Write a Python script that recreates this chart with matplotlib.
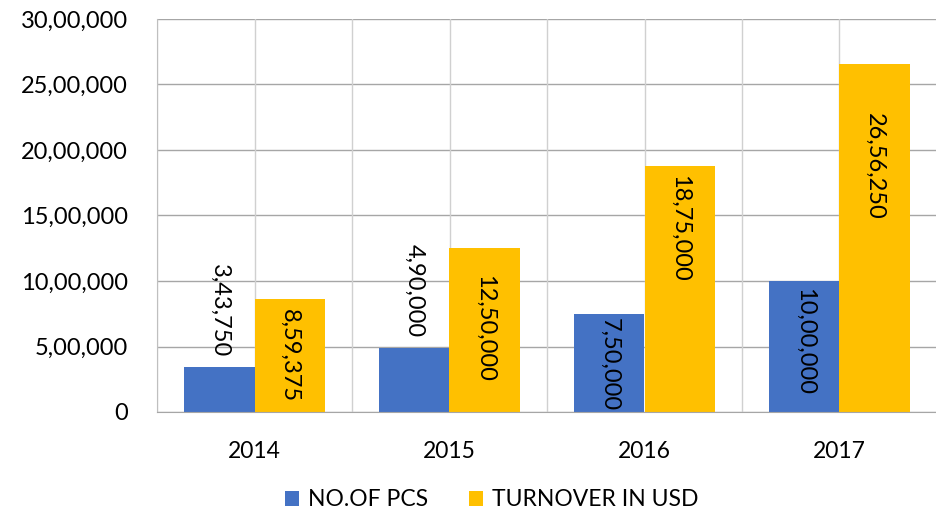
import matplotlib
matplotlib.use("Agg")
import matplotlib.pyplot as plt
from matplotlib.patches import Patch
import numpy as np

years = ["2014", "2015", "2016", "2017"]
series_names = ["NO.OF PCS", "TURNOVER IN USD"]
pcs = [343750, 490000, 750000, 1000000]
turnover = [859375, 1250000, 1875000, 2656250]
y_ticks = [0, 500000, 1000000, 1500000, 2000000, 2500000, 3000000]

# label placement styles (pixels from bar top; 'out' = above bar)
pcs_label_mode = ["out", "out", "in", "in"]
pcs_label_pad = [10, 11, 4, 7]
turn_label_mode = ["in", "in", "in", "in"]
turn_label_pad = [10, 27, 9, 49]

BLUE = "#4472C4"
YELLOW = "#FFC000"


def indian(n):
    n = int(round(n))
    s = str(n)
    if len(s) <= 3:
        return s
    last3 = s[-3:]
    rest = s[:-3]
    parts = []
    while len(rest) > 2:
        parts.insert(0, rest[-2:])
        rest = rest[:-2]
    if rest:
        parts.insert(0, rest)
    return ",".join(parts) + "," + last3


plt.rcParams["font.family"] = ["Lato", "DejaVu Sans"]
DPI = 100
fig = plt.figure(figsize=(9.37, 5.15), dpi=DPI)
ax = fig.add_axes([157 / 937, 103 / 515, 780 / 937, 393 / 515])

x = np.arange(len(years))
w = 0.36
b1 = ax.bar(x - w / 2, pcs, w, color=BLUE, zorder=3)
b2 = ax.bar(x + w / 2, turnover, w, color=YELLOW, zorder=3)

ax.set_xlim(-0.5, len(years) - 0.5)
ax.set_ylim(0, 3000000)
ax.set_yticks(y_ticks)
ax.set_yticklabels([indian(v) for v in y_ticks], fontsize=17)
ax.set_xticks(x)
ax.set_xticklabels(years, fontsize=16.5)
ax.tick_params(axis="y", length=0, pad=21)
ax.tick_params(axis="x", length=0, pad=21)

# gridlines
for v in y_ticks:
    ax.axhline(v, color="#A6A6A6", lw=1.0, zorder=1)
for xv in np.arange(-0.5, len(years), 0.5):
    ax.axvline(xv, color="#D0D0D0", lw=1.0, zorder=1)
for s in ["top", "right"]:
    ax.spines[s].set_visible(False)
ax.spines["left"].set_color("#BFBFBF")
ax.spines["bottom"].set_color("#A6A6A6")
ax.spines["left"].set_zorder(4)
ax.spines["bottom"].set_zorder(4)

pt = 72 / DPI


def label_bars(bars, vals, modes, pads):
    for bar, v, m, p in zip(bars, vals, modes, pads):
        cx = bar.get_x() + bar.get_width() / 2
        if m == "in":
            ax.annotate(indian(v), (cx, v), xytext=(0, -p * pt), textcoords="offset points",
                        rotation=270, ha="center", va="top", fontsize=17, color="black", zorder=5)
        else:
            ax.annotate(indian(v), (cx, v), xytext=(0, p * pt), textcoords="offset points",
                        rotation=270, ha="center", va="bottom", fontsize=17, color="black", zorder=5)


label_bars(b1, pcs, pcs_label_mode, pcs_label_pad)
label_bars(b2, turnover, turn_label_mode, turn_label_pad)

handles = [Patch(facecolor=BLUE, label=series_names[0]), Patch(facecolor=YELLOW, label=series_names[1])]
fig.legend(handles=handles, loc="center", bbox_to_anchor=(492 / 937, 1 - 500 / 515), ncol=2,
           frameon=False, fontsize=16.5, handlelength=0.6, handleheight=0.6, handletextpad=0.4,
           columnspacing=1.8)

fig.savefig("out.png", dpi=DPI)
